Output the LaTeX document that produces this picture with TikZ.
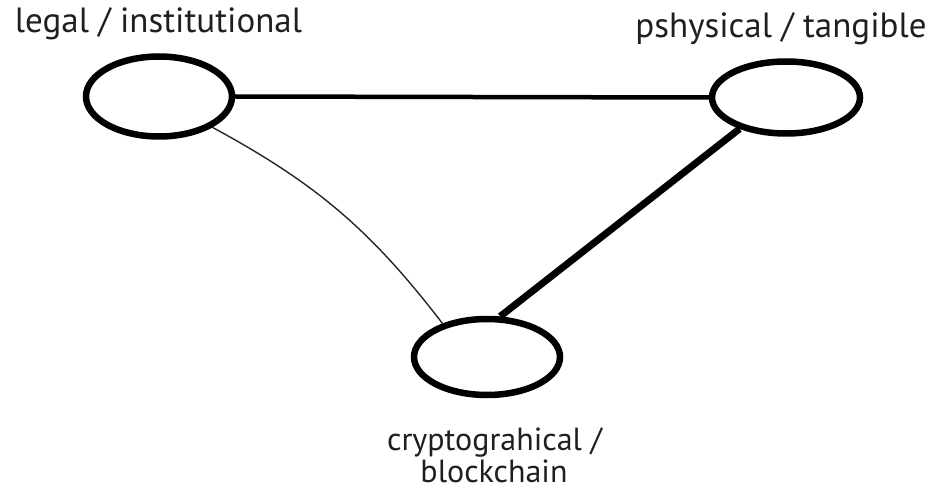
\documentclass[tikz,border=0pt]{standalone}
\usepackage{fontspec}
\setmainfont{PT Sans}
\usetikzlibrary{shapes.geometric}
\begin{document}
\begin{tikzpicture}[x=1pt,y=-1pt,
  blob/.style={ellipse,draw=black,line width=6.5pt,inner sep=0pt,fill=white},
  lbl/.style={font=\fontsize{35}{36}\selectfont,inner sep=0pt,anchor=base,text=black!88},
  sublbl/.style={lbl,font=\fontsize{32}{33}\selectfont},
  heavy/.style={draw=black,line width=4.5pt,line cap=round},
  heavier/.style={draw=black,line width=7pt},
  thin/.style={draw=black!85,line width=1.4pt,line cap=round}]
\useasboundingbox (0,0) rectangle (940,489);
\node[blob,minimum width=146pt,minimum height=80pt] (legal) at (159,96.5) {};
\node[blob,minimum width=148pt,minimum height=72pt] (phys) at (786,97.5) {};
\node[blob,minimum width=146pt,minimum height=76pt] (crypto) at (487,357) {};
\draw[heavy] (legal.east) -- (phys.west);
\draw[thin] (legal.-30) to[bend left=12] (crypto.143);
\draw[heavier] (phys.214) -- (crypto.72);
\node[lbl] (tl) at (158.5,33) {legal / institutional};
\node[lbl] (tr) at (781,38) {pshysical / tangible};
\node[sublbl] (b1) at (494.5,450) {cryptograhical /};
\node[sublbl] (b2) at (494,482) {blockchain};
\end{tikzpicture}
\end{document}
